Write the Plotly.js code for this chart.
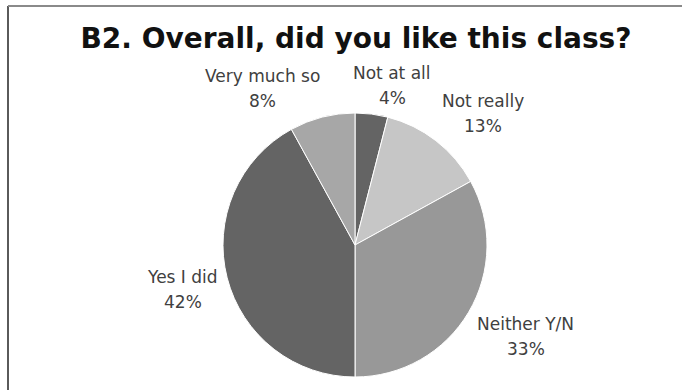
<!DOCTYPE html>
<html>
<head>
<meta charset="utf-8">
<script src="https://cdn.plot.ly/plotly-3.0.1.min.js"></script>
<style>html,body{margin:0;padding:0;background:#fff;} #chart{width:682px;height:390px;}</style>
</head>
<body>
<div id="chart"></div>
<script>
const categories = ["Not at all", "Not really", "Neither Y/N", "Yes I did", "Very much so"];
const values = [4, 13, 33, 42, 8];
const sliceColors = ["#646464", "#c6c6c6", "#989898", "#646464", "#a7a7a7"];
const chartTitle = "B2. Overall, did you like this class?";

const W = 682, H = 390;
const cx = 355, cy = 245, R = 132;           // pie centre and radius in pixels
const labelFont = {family: "DejaVu Sans, sans-serif", size: 17, color: "#404040"};
const gap = 10, pitch = 25, blockHalf = 19;

const trace = {
  type: "pie",
  labels: categories,
  values: values,
  sort: false,
  direction: "clockwise",
  rotation: 0,
  marker: {colors: sliceColors, line: {color: "#ffffff", width: 1}},
  textinfo: "none",
  showlegend: false,
  hoverinfo: "label+percent",
  domain: {x: [(cx - R) / W, (cx + R) / W], y: [(H - cy - R) / H, (H - cy + R) / H]}
};

// data labels placed outside each slice, derived from the slice mid-angles
const ctx = document.createElement("canvas").getContext("2d");
ctx.font = labelFont.size + "px 'DejaVu Sans'";
const total = values.reduce((a, b) => a + b, 0);
const annotations = [];
let cum = 0;
values.forEach((v, i) => {
  const mid = (cum + v / 2) / total * 2 * Math.PI;
  cum += v;
  const pct = Math.round(v / total * 100) + "%";
  const w = Math.max(ctx.measureText(categories[i]).width, ctx.measureText(pct).width);
  const s = Math.sin(mid), c = Math.cos(mid);
  const clamp = t => Math.max(-1, Math.min(1, t));
  const px = cx + (R + gap) * s + (w / 2) * clamp(4 * s);
  const py = cy - (R + gap) * c - blockHalf * clamp(2 * c);
  [[categories[i], py - pitch / 2], [pct, py + pitch / 2]].forEach(([txt, yy]) => {
    annotations.push({text: txt, x: px / W, y: 1 - yy / H, xref: "paper", yref: "paper",
      xanchor: "center", yanchor: "middle", showarrow: false, font: labelFont});
  });
});

const layout = {
  width: W, height: H,
  margin: {l: 0, r: 0, t: 0, b: 0},
  paper_bgcolor: "#ffffff",
  title: {text: "<b>" + chartTitle + "</b>", font: {family: "DejaVu Sans, sans-serif", size: 28, color: "#111111"},
          x: 356 / W, xanchor: "center", y: 1 - 38 / H, yanchor: "middle"},
  annotations: annotations,
  shapes: [
    {type: "line", xref: "paper", yref: "paper", x0: 8 / W, x1: 8 / W, y0: 0, y1: 1 - 6 / H, line: {color: "#5a5a5a", width: 2}},
    {type: "line", xref: "paper", yref: "paper", x0: 8 / W, x1: 1, y0: 1 - 6 / H, y1: 1 - 6 / H, line: {color: "#8a8a8a", width: 2}}
  ]
};

Plotly.newPlot("chart", [trace], layout, {staticPlot: true, displayModeBar: false});
</script>
</body>
</html>
